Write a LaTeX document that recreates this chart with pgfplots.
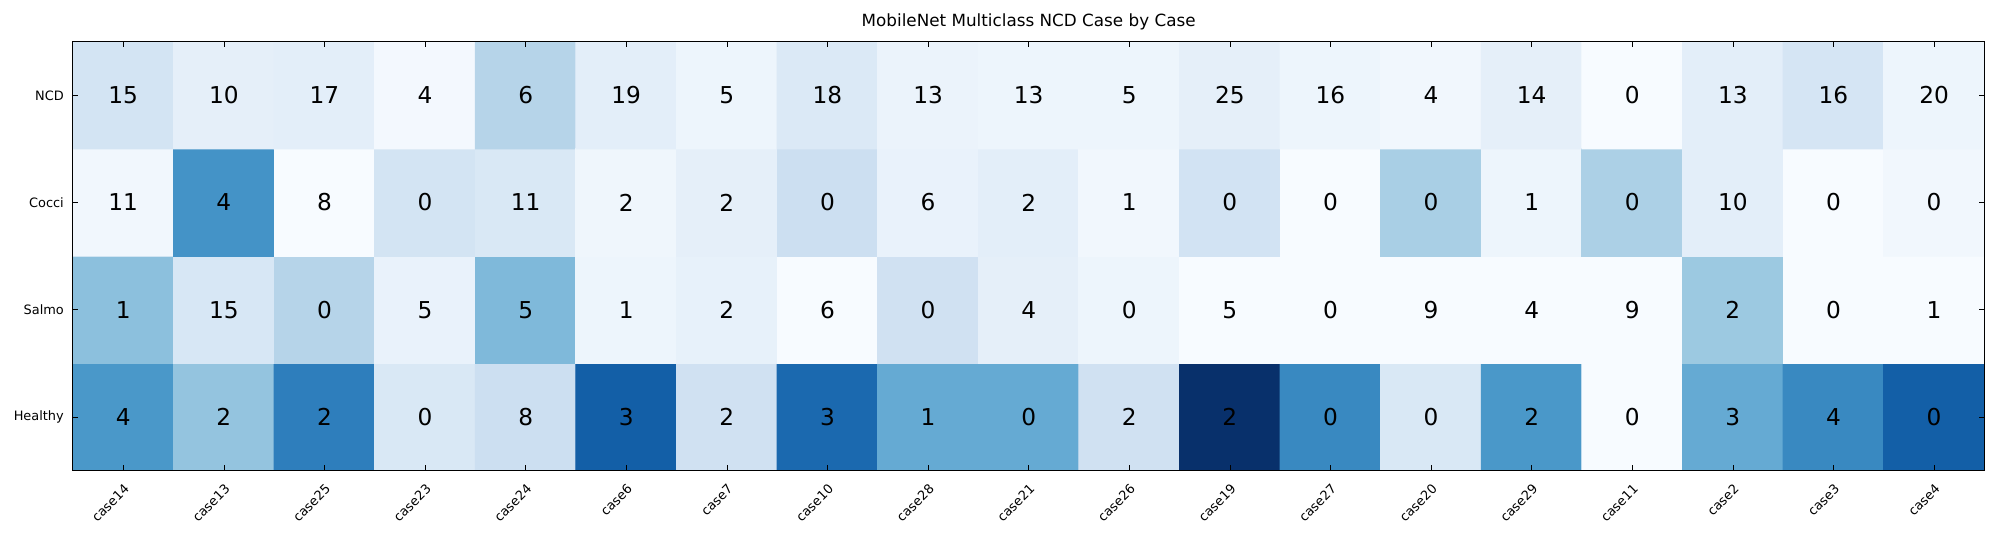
\documentclass[border=2pt]{standalone}
\usepackage{pgfplots}
\pgfplotsset{compat=1.18}
\usepackage{pgfplotstable}
\usepackage{fontspec}
\setmainfont{DejaVu Sans}
\pgfplotstableread{
x y c v
0 0 0.60 4
1 0 0.40 2
2 0 0.70 2
3 0 0.15 0
4 0 0.22 8
5 0 0.82 3
6 0 0.20 2
7 0 0.78 3
8 0 0.52 1
9 0 0.52 0
10 0 0.20 2
11 0 1.00 2
12 0 0.66 0
13 0 0.15 0
14 0 0.60 2
15 0 0.00 0
16 0 0.52 3
17 0 0.66 4
18 0 0.82 0
0 1 0.42 1
1 1 0.16 15
2 1 0.30 0
3 1 0.07 5
4 1 0.45 5
5 1 0.05 1
6 1 0.08 2
7 1 0.00 6
8 1 0.20 0
9 1 0.09 4
10 1 0.05 0
11 1 0.00 5
12 1 0.00 0
13 1 0.00 9
14 1 0.00 4
15 1 0.00 9
16 1 0.38 2
17 1 0.00 0
18 1 0.00 1
0 2 0.03 11
1 2 0.62 4
2 2 0.00 8
3 2 0.18 0
4 2 0.15 11
5 2 0.04 2
6 2 0.09 2
7 2 0.22 0
8 2 0.07 6
9 2 0.10 2
10 2 0.03 1
11 2 0.19 0
12 2 0.00 0
13 2 0.34 0
14 2 0.05 1
15 2 0.33 0
16 2 0.10 10
17 2 0.00 0
18 2 0.03 0
0 3 0.18 15
1 3 0.09 10
2 3 0.10 17
3 3 0.02 4
4 3 0.30 6
5 3 0.10 19
6 3 0.05 5
7 3 0.14 18
8 3 0.06 13
9 3 0.05 13
10 3 0.05 5
11 3 0.09 25
12 3 0.05 16
13 3 0.03 4
14 3 0.09 14
15 3 0.00 0
16 3 0.10 13
17 3 0.17 16
18 3 0.05 20
}\datatab
\begin{document}
\begin{tikzpicture}
\begin{axis}[
  width=740pt, height=166pt, scale only axis,
  xmin=-0.5, xmax=18.5, ymin=-0.5, ymax=3.5,
  enlargelimits=false, axis on top,
  colormap={blues}{rgb255(0)=(247,251,255) rgb255(1)=(222,235,247) rgb255(2)=(198,219,239) rgb255(3)=(158,202,225) rgb255(4)=(107,174,214) rgb255(5)=(66,146,198) rgb255(6)=(33,113,181) rgb255(7)=(8,81,156) rgb255(8)=(8,48,107)},
  point meta min=0, point meta max=1,
  xtick={0,...,18},
  xticklabels={case14,case13,case25,case23,case24,case6,case7,case10,case28,case21,case26,case19,case27,case20,case29,case11,case2,case3,case4},
  xticklabel style={rotate=45, anchor=north east, font=\fontsize{5}{6}\selectfont},
  ytick={0,1,2,3},
  yticklabels={Healthy,Salmo,Cocci,NCD},
  yticklabel style={font=\fontsize{5}{6}\selectfont},
  title={MobileNet Multiclass NCD Case by Case},
  title style={font=\fontsize{6.5}{7}\selectfont, yshift=-5pt},
  tick style={black}, major tick length=2pt,
]
\addplot[matrix plot*, mesh/cols=19, mesh/rows=4, point meta=explicit] table[x=x, y=y, meta=c] {\datatab};
\addplot[only marks, mark=none, nodes near coords, point meta=explicit symbolic,
  nodes near coords align=center,
  every node near coord/.append style={font=\fontsize{9}{10}\selectfont, black, anchor=center}]
  table[x=x, y=y, meta=v] {\datatab};
\end{axis}
\end{tikzpicture}
\end{document}
